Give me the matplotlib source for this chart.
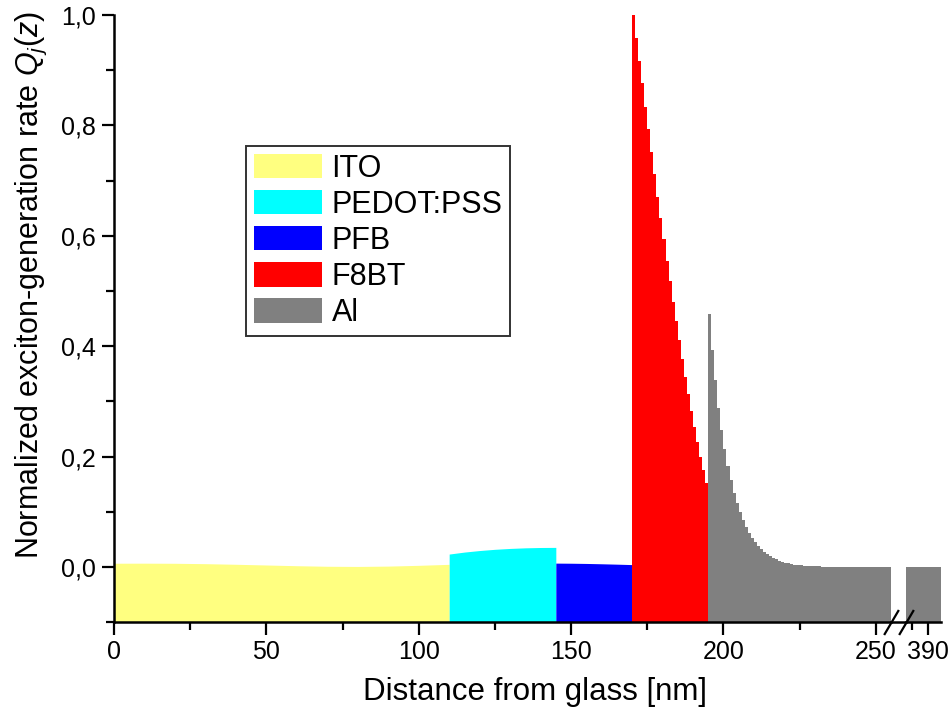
import numpy as np
import matplotlib
matplotlib.use("Agg")
import matplotlib.pyplot as plt
from matplotlib.patches import Patch
from matplotlib.lines import Line2D
from matplotlib.ticker import MultipleLocator, FuncFormatter, FixedLocator

plt.rcParams['font.family'] = ['Liberation Sans', 'DejaVu Sans']
plt.rcParams['mathtext.fontset'] = 'custom'
plt.rcParams['mathtext.rm'] = 'Liberation Sans'
plt.rcParams['mathtext.it'] = 'Liberation Sans:italic'

# ---- layer profiles (distance in nm, normalized generation rate) ----
layer_names = ["ITO", "PEDOT:PSS", "PFB", "F8BT", "Al"]
layer_colors = ["#FFFF80", "#00FFFF", "#0000FF", "#FF0000", "#808080"]

ito_z = [0, 10, 20, 30, 40, 50, 60, 70, 80, 90, 100, 110]
ito_q = [0.0070, 0.0071, 0.0069, 0.0062, 0.0051, 0.0038, 0.0025, 0.0015, 0.0012, 0.0018, 0.0032, 0.0050]

pedot_z = [110, 115, 120, 125, 130, 135, 140, 145]
pedot_q = [0.0236, 0.0272, 0.0300, 0.0322, 0.0338, 0.0349, 0.0355, 0.0357]

pfb_z = [145, 150, 155, 160, 165, 170]
pfb_q = [0.0072, 0.0070, 0.0066, 0.0060, 0.0053, 0.0045]

# F8BT: 1 nm bins from 170 to 195 nm
f8bt_edges = np.arange(170, 196, 1)
f8bt_q = [1.000, 0.959, 0.917, 0.876, 0.834, 0.793, 0.752, 0.712, 0.671, 0.632,
          0.594, 0.554, 0.518, 0.481, 0.446, 0.411, 0.377, 0.344, 0.313, 0.283,
          0.254, 0.226, 0.200, 0.175, 0.152]

# Al: 1 nm bins from 195 to 255 nm
al_edges = np.arange(195, 256, 1)
al_q = [0.458, 0.393, 0.338, 0.289, 0.248, 0.213, 0.184, 0.157, 0.135, 0.116,
        0.100, 0.085, 0.072, 0.061, 0.053, 0.045, 0.038, 0.033, 0.028, 0.024,
        0.020, 0.017, 0.014, 0.011, 0.0096, 0.0078, 0.0067, 0.0054, 0.0042, 0.0036,
        0.0031, 0.0024, 0.0018, 0.0015, 0.0013, 0.0012, 0.0011, 0.0010, 0.0010, 0.0009,
        0.0009, 0.0008, 0.0008, 0.0008, 0.0008, 0.0007, 0.0007, 0.0007, 0.0007, 0.0007,
        0.0007, 0.0007, 0.0007, 0.0007, 0.0007, 0.0007, 0.0007, 0.0007, 0.0007, 0.0007]

# Al far end (after the axis break): 383 to 394 nm
al2_edges = np.arange(383, 395, 1)
al2_q = [0.0007] * 11

x_ticks_left = [0, 50, 100, 150, 200, 250]
x_ticks_right = [390]
y_ticks = [0.0, 0.2, 0.4, 0.6, 0.8, 1.0]

YMIN, YMAX = -0.1, 1.0

W, H = 952, 722
fig = plt.figure(figsize=(W / 100, H / 100), dpi=100)

left_px, right_px = 114, 941
break_l, break_r = 891, 905.5
top_px, bot_px = 15, 622.3

def fig_rect(x0, x1):
    return [x0 / W, (H - bot_px) / H, (x1 - x0) / W, (bot_px - top_px) / H]

ax = fig.add_axes(fig_rect(left_px, break_l))
ax2 = fig.add_axes(fig_rect(break_r, right_px))

for a in (ax, ax2):
    a.fill_between(ito_z, YMIN, ito_q, color=layer_colors[0], linewidth=0)
    a.fill_between(pedot_z, YMIN, pedot_q, color=layer_colors[1], linewidth=0)
    a.fill_between(pfb_z, YMIN, pfb_q, color=layer_colors[2], linewidth=0)
    a.stairs(f8bt_q, f8bt_edges, fill=True, baseline=YMIN, color=layer_colors[3], linewidth=0)
    a.stairs(al_q, al_edges, fill=True, baseline=YMIN, color=layer_colors[4], linewidth=0)
    a.stairs(al2_q, al2_edges, fill=True, baseline=YMIN, color=layer_colors[4], linewidth=0)
    a.set_ylim(YMIN, YMAX)
    for s in ("top", "right"):
        a.spines[s].set_visible(False)
    a.spines["bottom"].set_linewidth(1.8)
    a.spines["left"].set_linewidth(1.8)
    a.tick_params(axis="both", which="major", direction="out", length=9, width=1.6,
                  labelsize=18, pad=4)
    a.tick_params(axis="both", which="minor", direction="out", length=5.5, width=1.6)

ax.set_xlim(0, 255)
ax2.set_xlim(383, 394)

ax.xaxis.set_major_locator(FixedLocator(x_ticks_left))
ax.xaxis.set_minor_locator(MultipleLocator(25))
ax.yaxis.set_major_locator(FixedLocator(y_ticks))
ax.yaxis.set_minor_locator(FixedLocator([-0.1, 0.1, 0.3, 0.5, 0.7, 0.9]))
ax.yaxis.set_major_formatter(FuncFormatter(lambda v, p: f"{v:.1f}".replace(".", ",")))

ax2.spines["left"].set_visible(False)
ax2.tick_params(axis="y", which="both", left=False, labelleft=False)
ax2.xaxis.set_major_locator(FixedLocator(x_ticks_right))
ax2.xaxis.set_minor_locator(FixedLocator([385]))

fig.text(31 / W, 1 - 285 / H, "Normalized exciton-generation rate $Q_j(z)$",
         fontsize=22, rotation=90, ha="center", va="center")
fig.text(535 / W, 1 - 692 / H, "Distance from glass [nm]",
         fontsize=22.5, ha="center", va="center")

# axis line bridging the break, plus the break marks
y_axis_fig = (H - bot_px) / H
fig.add_artist(Line2D([break_l / W, break_r / W], [y_axis_fig, y_axis_fig],
                      color="black", linewidth=1.8, transform=fig.transFigure))
mk = dict(marker=[(-1, -1.7), (1, 1.7)], markersize=18, linestyle="none",
          color="black", mec="black", mew=1.6, clip_on=False)
ax.plot([1], [0], transform=ax.transAxes, **mk)
ax2.plot([0], [0], transform=ax2.transAxes, **mk)

handles = [Patch(facecolor=c, edgecolor="none") for c in layer_colors]
leg = fig.legend(handles, layer_names, loc="upper left",
                 bbox_to_anchor=(246 / W, 1 - 146 / H), borderaxespad=0,
                 fontsize=22, frameon=True, fancybox=False, shadow=False,
                 handlelength=2.25, handleheight=0.85, handletextpad=0.3,
                 labelspacing=0.2, borderpad=0.25)
leg.get_frame().set_edgecolor("black")
leg.get_frame().set_linewidth(1.4)

fig.savefig("out.png", dpi=100)
